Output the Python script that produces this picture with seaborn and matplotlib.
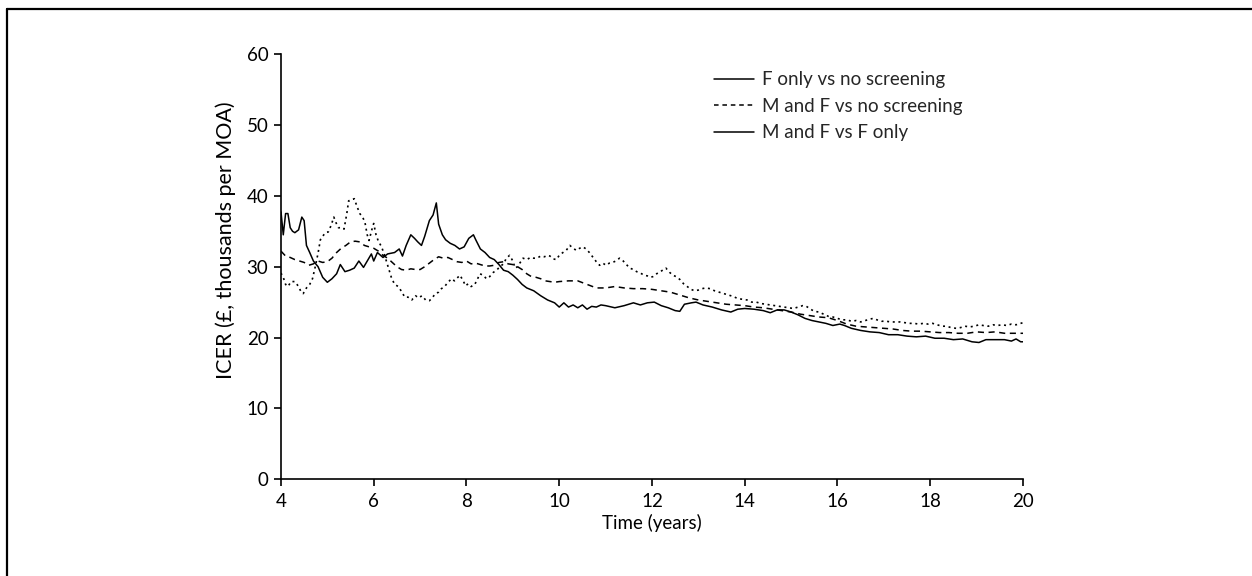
import matplotlib
matplotlib.use("Agg")
import matplotlib.pyplot as plt
import seaborn as sns
import numpy as np
from matplotlib.lines import Line2D

# ---- data ----
labels = ["F only vs no screening", "M and F vs no screening", "M and F vs F only"]

f_only_t = [4.00, 4.05, 4.10, 4.15, 4.20, 4.25, 4.30, 4.38, 4.45, 4.50, 4.55, 4.62, 4.70, 4.80, 4.90,
            5.00, 5.10, 5.20, 5.28, 5.38, 5.48, 5.58, 5.68, 5.78, 5.88, 5.95, 6.00, 6.08, 6.20, 6.30,
            6.45, 6.55, 6.62, 6.70, 6.80, 6.88, 6.95, 7.03, 7.10, 7.20, 7.28, 7.35, 7.40, 7.48, 7.55,
            7.65, 7.75, 7.85, 7.95, 8.05, 8.15, 8.20, 8.30, 8.40, 8.50, 8.60, 8.70, 8.80, 8.90, 9.00,
            9.10, 9.20, 9.30, 9.45, 9.60, 9.75, 9.90, 10.00, 10.10, 10.20, 10.30, 10.40, 10.50, 10.60,
            10.70, 10.80, 10.90, 11.00, 11.20, 11.40, 11.60, 11.75, 11.90, 12.05, 12.20, 12.35, 12.50,
            12.60, 12.70, 12.85, 12.95, 13.10, 13.30, 13.50, 13.70, 13.85, 14.00, 14.20, 14.40, 14.55,
            14.70, 14.85, 15.00, 15.15, 15.30, 15.45, 15.60, 15.75, 15.90, 16.05, 16.15, 16.30, 16.50,
            16.70, 16.90, 17.10, 17.30, 17.50, 17.70, 17.90, 18.10, 18.30, 18.50, 18.70, 18.90, 19.05,
            19.20, 19.40, 19.60, 19.75, 19.85, 19.95, 20.00]
f_only_v = [37.8, 34.5, 37.5, 37.5, 35.5, 35.0, 34.8, 35.2, 37.0, 36.5, 33.0, 32.0, 30.8, 30.0, 28.5,
            27.8, 28.3, 29.0, 30.3, 29.3, 29.5, 29.8, 30.8, 29.9, 31.0, 31.8, 30.8, 32.0, 31.3, 31.8,
            32.0, 32.5, 31.5, 33.0, 34.5, 34.0, 33.5, 33.0, 34.3, 36.5, 37.3, 39.0, 36.0, 34.5, 33.8,
            33.3, 33.0, 32.5, 32.8, 34.0, 34.5, 33.8, 32.5, 32.0, 31.3, 31.0, 30.3, 29.5, 29.3, 28.8,
            28.2, 27.5, 27.0, 26.6, 25.9, 25.3, 24.9, 24.3, 24.9, 24.3, 24.6, 24.2, 24.6, 24.0,
            24.4, 24.3, 24.6, 24.5, 24.2, 24.5, 24.9, 24.6, 24.9, 25.0, 24.5, 24.2, 23.8,
            23.7, 24.7, 24.9, 25.0, 24.6, 24.3, 23.9, 23.6, 24.0, 24.1, 24.0, 23.8, 23.5,
            23.9, 23.9, 23.6, 23.2, 22.7, 22.4, 22.2, 22.0, 21.7, 21.9, 21.7, 21.3, 21.0,
            20.8, 20.7, 20.4, 20.4, 20.2, 20.1, 20.2, 19.9, 19.9, 19.7, 19.8, 19.4, 19.3,
            19.7, 19.7, 19.7, 19.5, 19.8, 19.4, 19.4]

mf_none_t = [4.0, 4.1, 4.2, 4.3, 4.4, 4.5, 4.6, 4.7, 4.8, 4.9, 5.0, 5.1, 5.2, 5.3, 5.4, 5.5, 5.6, 5.7,
             5.8, 5.9, 6.0, 6.1, 6.2, 6.3, 6.4, 6.5, 6.6, 6.7, 6.8, 6.9, 7.0, 7.1, 7.2, 7.3, 7.4, 7.5,
             7.6, 7.7, 7.8, 7.9, 8.0, 8.1, 8.2, 8.3, 8.4, 8.5, 8.6, 8.7, 8.8, 8.9, 9.0, 9.1, 9.2, 9.3,
             9.4, 9.5, 9.6, 9.7, 9.8, 9.9, 10.0, 10.2, 10.4, 10.6, 10.8, 11.0, 11.2, 11.4, 11.6, 11.8,
             12.0, 12.2, 12.4, 12.6, 12.8, 13.0, 13.2, 13.4, 13.6, 13.8, 14.0, 14.2, 14.4, 14.6, 14.8,
             15.0, 15.2, 15.4, 15.6, 15.8, 16.0, 16.2, 16.4, 16.6, 16.8, 17.0, 17.2, 17.4, 17.6, 17.8,
             18.0, 18.2, 18.4, 18.6, 18.8, 19.0, 19.2, 19.4, 19.6, 19.8, 20.0]
mf_none_v = [32.2, 31.5, 31.3, 31.0, 30.8, 30.6, 30.2, 30.4, 30.8, 30.6, 30.7, 31.2, 32.0, 32.6, 33.0,
             33.5, 33.6, 33.5, 33.0, 32.8, 32.6, 32.2, 31.6, 31.2, 30.6, 30.0, 29.6, 29.5, 29.7, 29.6,
             29.6, 30.0, 30.5, 31.0, 31.4, 31.2, 31.3, 31.0, 30.7, 30.6, 30.8, 30.4, 30.5, 30.3, 30.1,
             30.1, 30.2, 30.6, 30.7, 30.4, 30.3, 30.0, 29.6, 29.0, 28.6, 28.5, 28.3, 28.0, 27.9, 27.8,
             27.9, 28.0, 28.0, 27.5, 27.0, 27.0, 27.2, 27.0, 26.9, 26.9, 26.8, 26.6, 26.4, 26.0, 25.6,
             25.3, 25.1, 24.9, 24.7, 24.6, 24.5, 24.3, 24.2, 24.0, 23.8, 23.6, 23.3, 23.1, 22.9, 22.8,
             22.4, 21.9, 21.6, 21.5, 21.4, 21.3, 21.2, 21.0, 20.9, 20.9, 20.8, 20.7, 20.7, 20.6, 20.6,
             20.8, 20.7, 20.8, 20.6, 20.6, 20.6]

mf_f_t = [4.00, 4.05, 4.10, 4.15, 4.22, 4.30, 4.38, 4.43, 4.48, 4.55, 4.62, 4.68, 4.74, 4.80, 4.85,
          4.90, 4.96, 5.02, 5.08, 5.14, 5.18, 5.24, 5.30, 5.36, 5.42, 5.46, 5.52, 5.58, 5.64, 5.70,
          5.76, 5.81, 5.86, 5.90, 5.95, 6.00, 6.05, 6.10, 6.17, 6.24, 6.31, 6.38, 6.45, 6.53, 6.60,
          6.67, 6.74, 6.82, 6.90, 6.97, 7.04, 7.12, 7.20, 7.25, 7.33, 7.40, 7.46, 7.53, 7.60, 7.68,
          7.74, 7.80, 7.86, 7.93, 7.98, 8.04, 8.10, 8.17, 8.22, 8.29, 8.36, 8.43, 8.50, 8.58, 8.65,
          8.72, 8.80, 8.86, 8.93, 9.00, 9.05, 9.10, 9.16, 9.22, 9.30, 9.38, 9.45, 9.52, 9.60, 9.68,
          9.75, 9.80, 9.87, 9.94, 10.00, 10.08, 10.15, 10.23, 10.30, 10.37, 10.44, 10.51, 10.58,
          10.65, 10.72, 10.80, 10.87, 10.94, 11.01, 11.08, 11.15, 11.22, 11.30, 11.38, 11.45, 11.52,
          11.60, 11.67, 11.75, 11.83, 11.90, 11.97, 12.02, 12.10, 12.18, 12.25, 12.30, 12.38, 12.45,
          12.52, 12.60, 12.68, 12.76, 12.84, 12.92, 13.00, 13.08, 13.16, 13.25, 13.35, 13.45, 13.55,
          13.65, 13.75, 13.85, 13.95, 14.05, 14.15, 14.25, 14.35, 14.45, 14.55, 14.65, 14.75, 14.85,
          14.95, 15.05, 15.15, 15.25, 15.33, 15.42, 15.50, 15.60, 15.70, 15.80, 15.90, 16.00, 16.10,
          16.20, 16.30, 16.40, 16.50, 16.60, 16.70, 16.77, 16.85, 16.95, 17.05, 17.15, 17.25, 17.35,
          17.45, 17.55, 17.65, 17.75, 17.85, 17.95, 18.05, 18.15, 18.25, 18.35, 18.45, 18.56, 18.65,
          18.75, 18.85, 18.95, 19.05, 19.14, 19.25, 19.35, 19.45, 19.55, 19.65, 19.75, 19.85, 19.95,
          20.00]
mf_f_v = [29.1, 28.5, 27.5, 27.2, 27.9, 27.9, 27.2, 26.5, 26.2, 27.0, 27.5, 28.3, 30.0, 31.9, 33.8,
          34.3, 34.8, 34.9, 35.8, 37.0, 36.3, 35.5, 35.5, 35.3, 37.5, 39.3, 39.4, 39.6, 38.5, 37.5,
          37.0, 36.3, 34.5, 33.7, 35.0, 36.1, 34.5, 33.6, 32.8, 31.5, 30.0, 28.5, 27.5, 27.2, 26.5,
          25.7, 25.7, 25.3, 25.9, 25.6, 25.9, 25.3, 25.2, 25.5, 26.2, 26.4, 26.9, 27.2, 27.8, 28.3,
          28.0, 28.4, 28.8, 28.0, 27.3, 27.6, 27.2, 27.4, 28.0, 29.0, 28.8, 28.3, 28.6, 29.2, 29.5,
          30.0, 30.4, 31.2, 31.6, 30.8, 29.8, 30.0, 30.6, 31.2, 31.0, 31.3, 31.2, 31.2, 31.5, 31.4,
          31.6, 31.5, 31.1, 31.0, 31.6, 32.0, 32.3, 33.0, 32.6, 32.3, 32.6, 32.8, 32.5,
          32.0, 31.4, 30.7, 30.2, 30.5, 30.2, 30.5, 30.6, 30.8, 31.2, 30.8, 30.3, 29.8,
          29.6, 29.3, 29.1, 28.8, 28.7, 28.5, 28.6, 29.0, 29.3, 29.6, 29.8, 29.2, 28.8,
          28.6, 28.2, 27.6, 27.2, 26.8, 26.6, 26.7, 26.9, 27.0, 26.9, 26.6, 26.4, 26.2,
          26.0, 25.8, 25.5, 25.4, 25.3, 25.0, 25.0, 24.8, 24.7, 24.6, 24.5, 24.4, 24.3,
          24.2, 24.1, 24.3, 24.5, 24.4, 24.0, 23.7, 23.6, 23.3, 23.0, 22.9, 22.7, 22.5,
          22.5, 22.3, 22.4, 22.2, 22.4, 22.6, 22.7, 22.5, 22.3, 22.3, 22.2, 22.2, 22.2,
          22.1, 22.0, 22.0, 21.9, 22.0, 21.9, 22.0, 21.8, 21.6, 21.6, 21.4, 21.3, 21.4,
          21.6, 21.5, 21.6, 21.8, 21.7, 21.6, 21.8, 21.7, 21.8, 21.7, 21.9, 21.8, 22.0,
          22.1]

x_ticks = [4, 6, 8, 10, 12, 14, 16, 18, 20]
y_ticks = [0, 10, 20, 30, 40, 50, 60]
x_label = "Time (years)"
y_label = "ICER (£, thousands per MOA)"

# ---- style ----
sns.set_theme(style="white")
plt.rcParams["font.family"] = ["Lato", "DejaVu Sans"]

fig = plt.figure(figsize=(12.52, 5.76), dpi=100)
ax = fig.add_axes([0.2244, 0.168, 0.5927, 0.738])

styles = [(0, ()), (0, (4, 3)), (0, (1.2, 2.2))]
widths = [1.1, 1.1, 1.2]
series = [(f_only_t, f_only_v), (mf_none_t, mf_none_v), (mf_f_t, mf_f_v)]
for (t, v), ls, lw in zip(series, styles, widths):
    sns.lineplot(x=t, y=v, ax=ax, color="black", linewidth=lw, linestyle=ls, sort=False)

ax.set_xlim(4, 20)
ax.set_ylim(0, 60)
ax.set_xticks(x_ticks)
ax.set_yticks(y_ticks)
ax.set_xlabel(x_label, fontsize=13.5, color="black")
ax.xaxis.set_label_coords(0.5, -0.082)
ax.set_ylabel(y_label, fontsize=15.5, color="black")
ax.yaxis.set_label_coords(-0.060, 0.562)
ax.tick_params(axis="both", which="major", labelsize=13.5, colors="black",
               direction="out", length=5, width=1.2, bottom=True, left=True, pad=4)
ax.tick_params(axis="x", pad=5)
for side in ["top", "right"]:
    ax.spines[side].set_visible(False)
for side in ["left", "bottom"]:
    ax.spines[side].set_color("black")
    ax.spines[side].set_linewidth(1.2)

handles = [Line2D([], [], color="black", lw=1.1, linestyle="-"),
           Line2D([], [], color="black", lw=1.1, linestyle=(0, (3, 2.5))),
           Line2D([], [], color="black", lw=1.1, linestyle="-")]
fig.legend(handles, labels, loc="upper left", bbox_to_anchor=(0.5645, 0.889),
           frameon=False, fontsize=13.5, handlelength=2.1, handletextpad=0.45,
           labelspacing=0.5, borderaxespad=0)

# outer frame (left and top edges visible in the reference)
fig.add_artist(Line2D([7 / 1252, 7 / 1252], [0.0, 1 - 9 / 576], transform=fig.transFigure,
                      color="black", lw=1.6))
fig.add_artist(Line2D([7 / 1252, 1.0], [1 - 9 / 576, 1 - 9 / 576], transform=fig.transFigure,
                      color="black", lw=1.6))

fig.savefig("out.png", dpi=100, facecolor="white")
